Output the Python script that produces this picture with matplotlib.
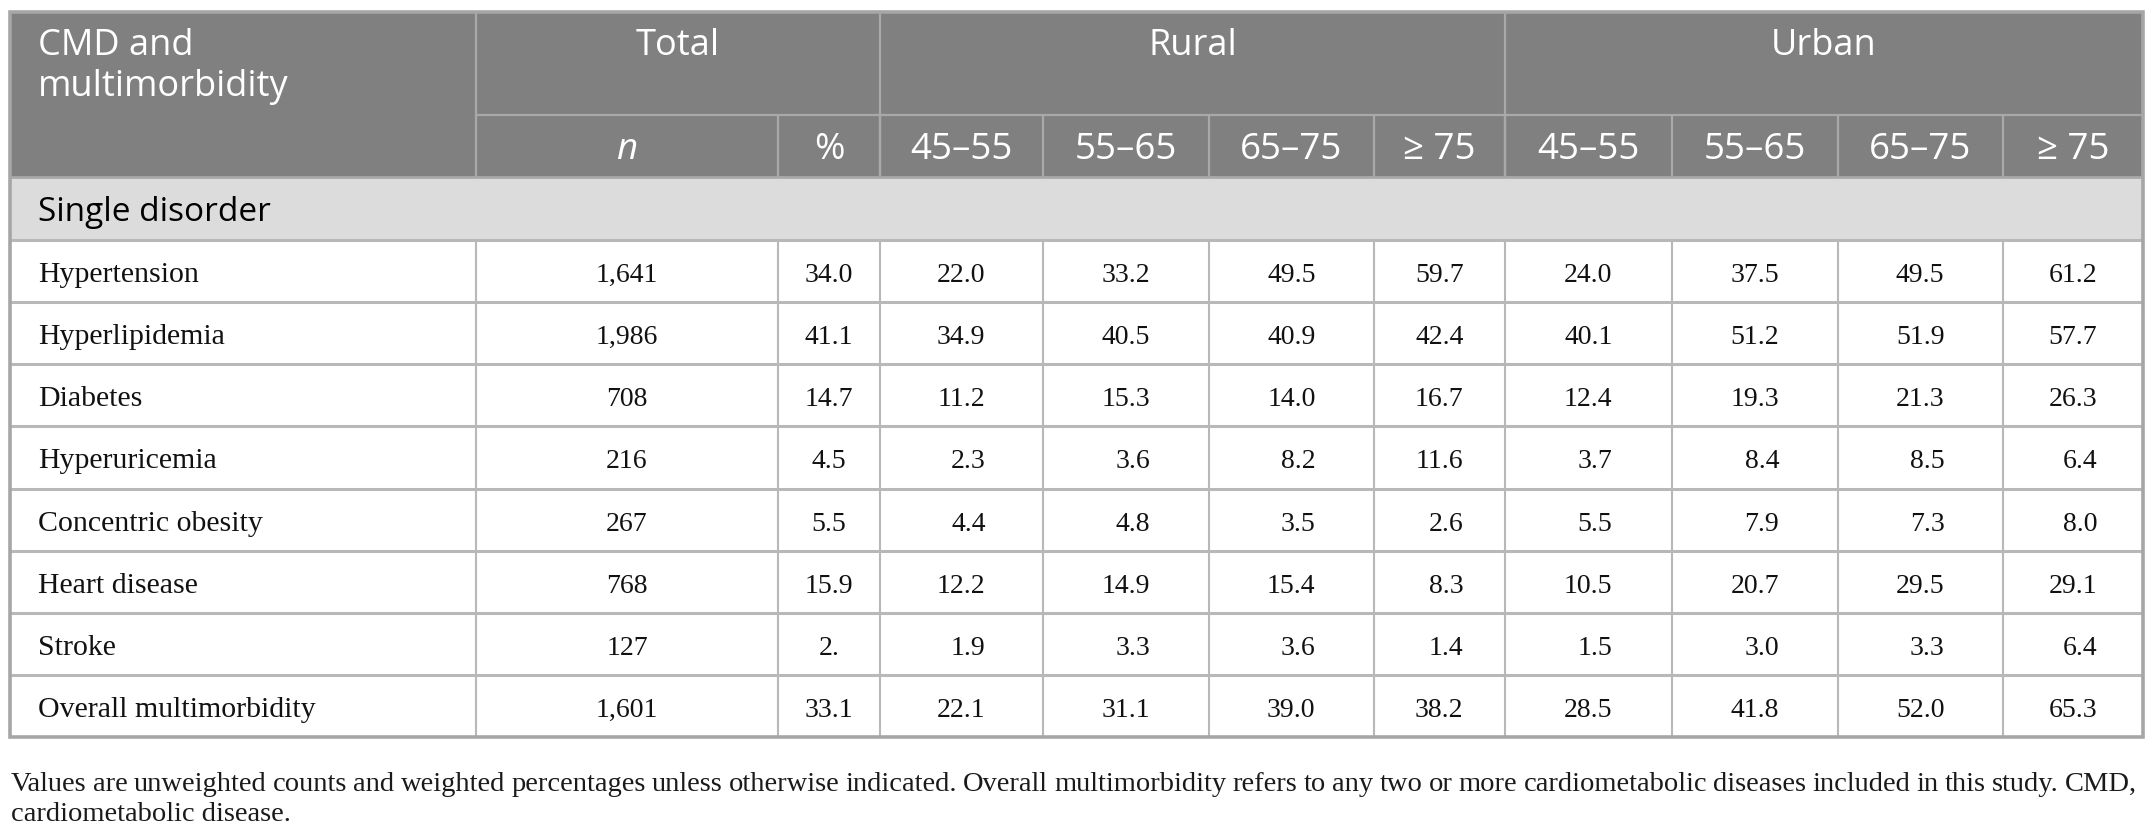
import matplotlib

matplotlib.use("Agg")
import matplotlib.pyplot as plt  # noqa: E402
from matplotlib.patches import Rectangle  # noqa: E402

# ---- table content -------------------------------------------------------
disorders = ["Hypertension", "Hyperlipidemia", "Diabetes", "Hyperuricemia",
             "Concentric obesity", "Heart disease", "Stroke",
             "Overall multimorbidity"]
total_n = ["1,641", "1,986", "708", "216", "267", "768", "127", "1,601"]
total_pct = ["34.0", "41.1", "14.7", "4.5", "5.5", "15.9", "2.", "33.1"]
age_groups = ["45\u201355", "55\u201365", "65\u201375", "\u2265 75"]
rural = [
    ["22.0", "33.2", "49.5", "59.7"],
    ["34.9", "40.5", "40.9", "42.4"],
    ["11.2", "15.3", "14.0", "16.7"],
    ["2.3", "3.6", "8.2", "11.6"],
    ["4.4", "4.8", "3.5", "2.6"],
    ["12.2", "14.9", "15.4", "8.3"],
    ["1.9", "3.3", "3.6", "1.4"],
    ["22.1", "31.1", "39.0", "38.2"],
]
urban = [
    ["24.0", "37.5", "49.5", "61.2"],
    ["40.1", "51.2", "51.9", "57.7"],
    ["12.4", "19.3", "21.3", "26.3"],
    ["3.7", "8.4", "8.5", "6.4"],
    ["5.5", "7.9", "7.3", "8.0"],
    ["10.5", "20.7", "29.5", "29.1"],
    ["1.5", "3.0", "3.3", "6.4"],
    ["28.5", "41.8", "52.0", "65.3"],
]
footnote_1 = ("Values are unweighted counts and weighted percentages unless "
              "otherwise indicated. Overall multimorbidity refers to any two "
              "or more cardiometabolic diseases included in this study. CMD,")
footnote_2 = "cardiometabolic disease."

# ---- layout (pixels) -----------------------------------------------------
W, H = 2146, 830
col_x = [10, 476, 778, 880, 1043, 1209, 1374, 1505, 1672, 1838, 2003, 2143]
head1_top, head1_bot, head2_bot, sub_bot = 12, 115, 177, 240
row_h = (737 - sub_bot) / len(disorders)

HEAD_BG = "#808080"
SUB_BG = "#dcdcdc"
LINE = "#b8b8b8"
HEAD_LINE = "#a9a9a9"
SANS = ["Open Sans", "DejaVu Sans"]
SERIF = ["Liberation Serif", "DejaVu Serif"]

fig = plt.figure(figsize=(W / 100, H / 100), dpi=100)
ax = fig.add_axes([0, 0, 1, 1])
ax.set_xlim(0, W)
ax.set_ylim(H, 0)
ax.axis("off")

left, right = col_x[0], col_x[-1]
bottom = sub_bot + row_h * len(disorders)

# backgrounds
ax.add_patch(Rectangle((left, head1_top), right - left, head2_bot - head1_top,
                       facecolor=HEAD_BG, edgecolor="none", zorder=0))
ax.add_patch(Rectangle((left, head2_bot), right - left, sub_bot - head2_bot,
                       facecolor=SUB_BG, edgecolor="none", zorder=0))

# header grid lines
ax.hlines(head1_bot, col_x[1], right, color=HEAD_LINE, lw=1.6, zorder=1)
ax.hlines(head2_bot, left, right, color=HEAD_LINE, lw=2.0, zorder=1)
for x in (col_x[1], col_x[3], col_x[7]):
    ax.vlines(x, head1_top, head2_bot, color=HEAD_LINE, lw=1.6, zorder=1)
for x in col_x[2:-1]:
    ax.vlines(x, head1_bot, head2_bot, color=HEAD_LINE, lw=1.6, zorder=1)

# body grid lines
row_edges = [sub_bot + row_h * i for i in range(len(disorders) + 1)]
for y in row_edges[:-1]:
    ax.hlines(y, left, right, color=LINE, lw=2.2, zorder=1)
for x in col_x[1:-1]:
    ax.vlines(x, sub_bot, bottom, color=LINE, lw=1.5, zorder=1)

# outer frame
ax.add_patch(Rectangle((left, head1_top), right - left, bottom - head1_top,
                       facecolor="none", edgecolor="#a6a6a6", lw=2.6,
                       zorder=3))

# header text
hkw = dict(color="white", family=SANS, fontsize=26)
head1_y = 55
ax.text(col_x[0] + 28, head1_y, "CMD and", ha="left", va="baseline", **hkw)
ax.text(col_x[0] + 28, head1_y + 41, "multimorbidity", ha="left",
        va="baseline", **hkw)
ax.text((col_x[1] + col_x[3]) / 2, head1_y, "Total", ha="center",
        va="baseline", **hkw)
ax.text((col_x[3] + col_x[7]) / 2, head1_y, "Rural", ha="center",
        va="baseline", **hkw)
ax.text((col_x[7] + col_x[11]) / 2, head1_y, "Urban", ha="center",
        va="baseline", **hkw)

head2_y = (head1_bot + head2_bot) / 2 + 13
sub_labels = ["n", "%"] + age_groups + age_groups
for i, lab in enumerate(sub_labels):
    xc = (col_x[i + 1] + col_x[i + 2]) / 2
    style = "italic" if lab == "n" else "normal"
    ax.text(xc, head2_y, lab, ha="center", va="baseline", style=style,
            color="white", family=SANS, fontsize=26.5)

ax.text(col_x[0] + 28, (head2_bot + sub_bot) / 2 + 12, "Single disorder",
        ha="left", va="baseline", color="black", family=SANS, fontsize=24)

# body text
bkw = dict(color="#111111", family=SERIF, va="baseline")
for r, name in enumerate(disorders):
    yb = row_edges[r] + row_h / 2 + 11
    ax.text(col_x[0] + 28, yb, name, ha="left", fontsize=21.5, **bkw)
    ax.text((col_x[1] + col_x[2]) / 2, yb, total_n[r], ha="center",
            fontsize=20, **bkw)
    ax.text((col_x[2] + col_x[3]) / 2, yb, total_pct[r], ha="center",
            fontsize=20, **bkw)
    for j, val in enumerate(rural[r] + urban[r]):
        xc = (col_x[j + 3] + col_x[j + 4]) / 2
        ax.text(xc + 24, yb, val, ha="right", fontsize=20, **bkw)


# footnote, first line justified to the table width
def justified(ax, text, x0, x1, y, **kw):
    renderer = ax.figure.canvas.get_renderer()
    words = text.split()
    arts = [ax.text(0, y, w, ha="left", va="baseline", **kw) for w in words]
    widths = [a.get_window_extent(renderer).width for a in arts]
    gap = (x1 - x0 - sum(widths)) / (len(words) - 1)
    x = x0
    for a, w in zip(arts, widths):
        a.set_x(x)
        x += w + gap


fkw = dict(color="#1a1a1a", family=SERIF, fontsize=20.5)
justified(ax, footnote_1, left + 1, right - 6, 791, **fkw)
ax.text(left + 1, 821, footnote_2, ha="left", va="baseline", **fkw)

fig.savefig("out.png", dpi=100)
